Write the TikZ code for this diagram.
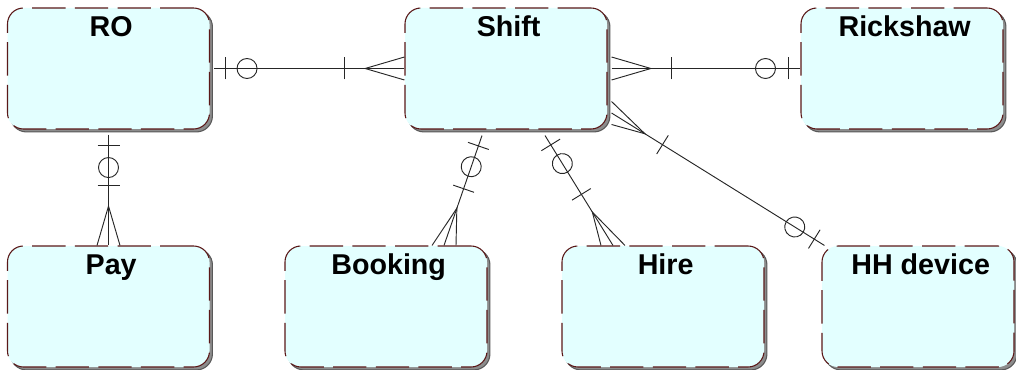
\documentclass[tikz,border=0pt]{standalone}
\usepackage{fontspec}
\setmainfont{Liberation Sans}
\usetikzlibrary{calc,shadows,decorations.markings}

\definecolor{entfill}{HTML}{E3FFFF}
\definecolor{entline}{HTML}{5A1818}
\newcommand{\entfont}{\bfseries\fontsize{21.5}{25}\selectfont}

\tikzset{
	entity/.style={rectangle, rounded corners=12pt, minimum width=151.5pt, minimum height=90.75pt,
		fill=entfill, draw=entline, line width=.8pt, dash pattern=on 25pt off 7pt,
		general shadow={solid, fill=black!45, draw=black!65, shadow xshift=2.2pt, shadow yshift=-2.2pt},
		label={[anchor=base, label distance=-21.75pt, xshift=2pt, font=\entfont]north:#1}},
	rel/.style={draw=black!85, line width=.7pt},
	% bar + circle (zero or one) near the start / end of a relation
	zo start/.style={postaction={decorate, decoration={markings,
		mark=at position 8.25pt with {\draw[rel] (0,-8.25pt) -- (0,8.25pt);},
		mark=at position 24.75pt with {\draw[rel] (0,0) circle (7.5pt);}}}},
	zo end/.style={postaction={decorate, decoration={markings,
		mark=at position -26.25pt with {\draw[rel] (0,0) circle (7.5pt);},
		mark=at position -9pt with {\draw[rel] (0,-8.25pt) -- (0,8.25pt);}}}},
	% bar in front of a crow's foot
	many start/.style={postaction={decorate, decoration={markings,
		mark=at position 45pt with {\draw[rel] (0,-8.25pt) -- (0,8.25pt);}}}},
	many end/.style={postaction={decorate, decoration={markings,
		mark=at position -45pt with {\draw[rel] (0,-8.25pt) -- (0,8.25pt);}}}},
}

\begin{document}
\begin{tikzpicture}[x=.75pt, y=-.75pt]
	\useasboundingbox (0,0) rectangle (1016,370);

	\node[entity=RO] (ro) at (108.5,68.5) {};
	\node[entity=Shift] (shift) at (506,68.5) {};
	\node[entity=Rickshaw] (rickshaw) at (902,68.5) {};
	\node[entity=Pay] (pay) at (108.5,306.5) {};
	\node[entity=Booking] (booking) at (386,306.5) {};
	\node[entity=Hire] (hire) at (663,306.5) {};
	\node[entity=HH device, minimum width=144pt] (hh) at (918,306.5) {};

	% end points on the entity borders
	\coordinate (ro-e) at ($(ro.east)+(4,0)$);
	\coordinate (ro-s) at ($(ro.south)+(0,5)$);
	\coordinate (sh-w) at (shift.west);
	\coordinate (sh-e) at ($(shift.east)+(4,0)$);
	\coordinate (sh-se) at ($(shift.east)+(4,44.5)$);
	\coordinate (sh-s1) at ($(shift.south)+(-24,6)$);
	\coordinate (sh-s2) at ($(shift.south)+(39,6)$);
	\coordinate (rk-w) at (rickshaw.west);
	\coordinate (pay-n) at (pay.north);
	\coordinate (bk-n) at ($(booking.north)+(58,0)$);
	\coordinate (hi-n) at ($(hire.north)+(-50,0)$);
	\coordinate (hh-n) at ($(hh.north west)+(3,0)$);

	\draw[rel, zo start, many end] (ro-e) -- (sh-w);
	\draw[rel, many start, zo end] (sh-e) -- (rk-w);
	\draw[rel, zo start, many end] (ro-s) -- (pay-n);
	\draw[rel, zo start, many end] (sh-s1) -- (bk-n);
	\draw[rel, zo start, many end] (sh-s2) -- (hi-n);
	\draw[rel, many start, zo end] (sh-se) -- (hh-n);

	% crow's feet, spread along the entity border
	\foreach \e/\o/\dx/\dy in {sh-w/ro-e/0/11.5, sh-e/rk-w/0/11.5, pay-n/ro-s/11.5/0,
		bk-n/sh-s1/12/0, hi-n/sh-s2/12/0, sh-se/hh-n/0/11.5}
		\draw[rel] ($(\e)+(-\dx,-\dy)$) -- ($(\e)!29.5pt!(\o)$) -- ($(\e)+(\dx,\dy)$);
\end{tikzpicture}
\end{document}
